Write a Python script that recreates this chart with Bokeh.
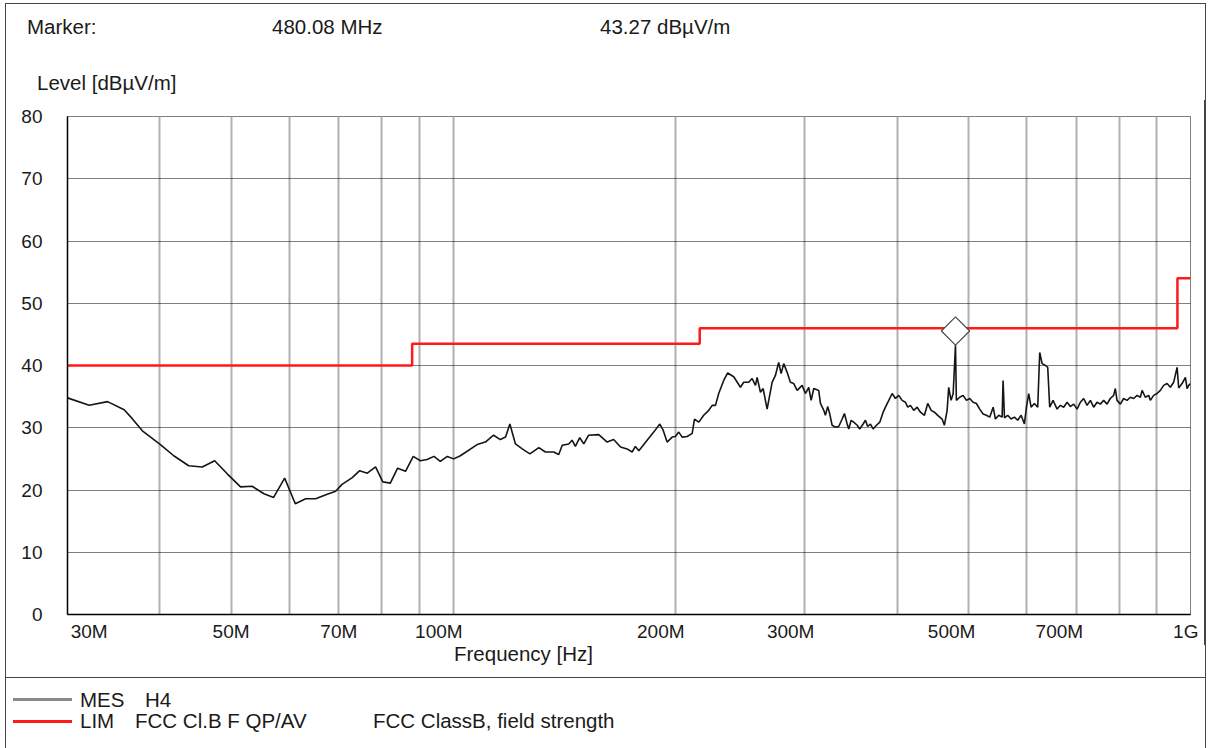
import numpy as np
from bokeh.plotting import figure
from bokeh.models import Range1d, FixedTicker, Div
from bokeh.layouts import column
from bokeh.embed import file_html
from bokeh.resources import INLINE

# ---------------- data ----------------
mes_freq_mhz = [
    30.0, 32.1, 34.0, 35.8, 36.7, 37.9, 40.1, 41.8, 43.8, 45.7, 47.5, 49.4, 51.5, 53.4, 55.4, 57.1,
    59.1, 61.1, 63.1, 65.1, 67.5, 69.3, 70.7, 73.0, 74.7, 76.5, 78.5, 80.3, 82.2, 84.1, 86.2, 88.3,
    90.3, 92.2, 94.2, 96.1, 98.2, 100.2, 102.3, 107.8, 110.6, 113.5, 115.9, 117.8, 119.4, 121.5,
    124.1, 127.1, 130.7, 133.4, 136.9, 139.1, 140.6, 143.5, 145.0, 146.5, 148.5, 150.4, 152.7,
    157.6, 161.8, 165.1, 168.7, 172.2, 174.9, 176.7, 178.6, 180.5, 183.3, 187.1, 190.7, 192.7,
    195.1, 198.2, 200.2, 202.3, 204.5, 207.7, 211.0, 212.5, 215.4, 218.7, 222.2, 224.6, 226.9,
    229.2, 232.8, 235.7, 240.2, 245.3, 247.8, 251.7, 254.4, 257.1, 258.4, 261.1, 263.3, 266.6,
    270.8, 273.6, 276.4, 278.5, 280.8, 283.8, 286.7, 289.7, 292.8, 297.4, 300.5, 303.6, 305.9,
    308.4, 313.2,
    314.9, 318.2, 319.8, 322.1, 324.2, 326.6, 330.0, 333.4, 337.0, 339.4,
    342.3, 344.0, 346.6, 349.4, 353.2, 356.0, 359.8, 362.4, 365.0, 368.1,
    371.2, 375.1, 379.0, 383.0, 385.8, 389.8, 393.9, 398.0, 402.1, 406.4,
    410.6, 413.6, 417.1, 421.4, 425.9, 430.3, 435.7, 440.2, 445.0, 449.5,
    454.2, 460.4, 463.7, 467.7, 470.0, 473.5, 476.6, 480.08, 481.4, 486.4,
    491.7, 496.7, 501.9, 507.2, 512.5, 517.8, 523.3, 528.7, 534.2, 540.0,
    543.8, 549.5, 555.3, 557.0, 559.4, 565.1, 571.1, 577.0, 583.0, 589.3,
    595.3, 599.1, 603.4, 607.9, 614.2, 620.6, 624.5, 629.2, 635.7, 640.3,
    644.3, 651.1,
    659.3, 666.1, 673.0, 680.2, 687.2, 694.3, 701.8, 709.0, 716.4, 724.0, 731.5, 739.1, 746.9,
    754.6, 762.5, 770.6, 778.4, 786.6, 790.8, 795.0, 803.3, 811.6, 820.2, 828.7, 837.3, 846.4,
    855.1, 859.7, 868.5, 877.5, 882.2, 891.3, 900.8, 910.2, 919.6, 929.4, 939.1, 948.8, 959.0,
    963.8, 974.1, 984.2, 989.4, 994.4, 1000.0,
]
mes_level = [
    34.8, 33.6, 34.2, 32.9, 31.5, 29.5, 27.3, 25.5, 23.9, 23.7, 24.7, 22.6, 20.5, 20.6, 19.4, 18.8,
    21.9, 17.8, 18.6, 18.6, 19.3, 19.8, 20.9, 22.0, 23.1, 22.7, 23.7, 21.3, 21.1, 23.5, 23.0, 25.4,
    24.7, 24.9, 25.4, 24.6, 25.4, 25.0, 25.5, 27.3, 27.7, 28.8, 28.1, 28.5, 30.6, 27.4,
    26.6, 25.8, 26.8, 26.1, 26.1, 25.7, 27.2, 27.4, 28.0, 27.0, 28.4, 27.4, 28.8,
    28.9, 27.7, 28.1, 26.9, 26.6, 26.1, 27.0, 26.3, 27.0, 28.0, 29.3, 30.6, 29.6,
    27.7, 28.5, 28.6, 29.3, 28.5, 28.6, 29.1, 31.4, 30.9, 32.0, 32.8, 33.6, 33.6,
    35.5, 37.6, 38.8, 38.2, 36.5, 37.3, 37.3, 37.9, 36.8, 38.1, 35.7, 36.3, 33.0,
    37.3, 38.4, 40.5, 38.7, 40.3, 38.9, 37.3, 37.1, 36.0, 36.8, 35.5, 36.5, 34.4,
    36.3, 36.0,
    33.9, 32.8, 32.0, 33.4, 32.2, 30.4, 30.1, 30.2, 31.4, 32.3,
    30.6, 29.8, 31.2, 30.9, 30.4, 29.8, 30.6, 31.2, 30.2, 30.6,
    29.8, 30.4, 30.9, 32.5, 33.3, 34.4, 35.5, 34.7, 35.2, 34.4,
    34.1, 33.3, 33.6, 32.8, 33.3, 32.5, 32.0, 33.9, 32.8, 32.5,
    32.0, 31.4, 30.4, 32.8, 36.5, 34.4, 35.5, 43.27, 34.4, 34.9,
    35.2, 34.4, 34.7, 34.1, 33.9, 33.0, 32.2, 32.0, 31.7, 33.3,
    31.4, 32.0, 31.7, 37.6, 31.6, 32.0, 31.4, 31.7, 31.2, 32.0,
    30.6, 33.3, 35.5, 33.3, 33.9, 33.3, 42.1, 40.3, 40.0, 39.7,
    33.3, 34.4,
    33.0, 33.6, 33.3, 34.1, 33.4, 33.8, 33.0, 34.1, 34.7, 33.6, 34.4, 33.3, 34.1,
    33.8, 34.4, 33.8, 34.7, 35.2, 36.3, 34.4, 33.8, 34.7, 34.4, 34.9, 34.7, 35.2,
    34.9, 36.0, 34.9, 35.2, 34.4, 35.2, 35.5, 36.0, 36.8, 37.1, 36.5, 37.3, 39.7,
    36.4, 37.1, 38.1, 36.3, 36.8, 37.1,
]

lim_freq_mhz = [30, 88, 88, 216, 216, 960, 960, 1000]
lim_level = [40, 40, 43.5, 43.5, 46, 46, 54, 54]

marker_freq_mhz = 480.08
marker_level = 43.27

y_ticks = [0, 10, 20, 30, 40, 50, 60, 70, 80]
x_tick_mhz = [30, 50, 70, 100, 200, 300, 500, 700, 1000]
x_tick_labels = ["30M", "50M", "70M", "100M", "200M", "300M", "500M", "700M", "1G"]
x_grid_mhz = [40, 50, 60, 70, 80, 90, 100, 200, 300, 400, 500, 600, 700, 800, 900]

mes_legend = ("MES", "H4")
lim_legend = ("LIM", "FCC Cl.B F QP/AV", "FCC ClassB, field strength")

# ---------------- styling / layout ----------------
W = 1208
HEAD_H, FIG_H, FOOT_H = 100, 545, 103
ML, MT, MR, MB = 67, 16, 18, 31
FONT = "Liberation Sans"
TXT = "#1a1a1a"
BORDER = "#454545"

# non-collapsing spaces that nudge tick labels the way the original print places them
EM, EN, NB = "\u2003", "\u2002", "\u00a0"
label_pad = {30: (EM + EM + NB, ""), 100: ("", EM + EN), 200: ("", EM + EN), 300: ("", EM + EN),
             500: ("", EM + EN + NB), 700: ("", EM + EN + NB), 1000: ("", EN)}

p = figure(width=W, height=FIG_H, x_axis_type="log",
           x_range=Range1d(30e6, 1000e6), y_range=Range1d(0, 80),
           output_backend="svg", toolbar_location=None, title=None,
           min_border_left=ML, min_border_top=MT, min_border_right=MR, min_border_bottom=MB)
p.background_fill_color = "white"
p.border_fill_alpha = 0
p.outline_line_color = "black"
p.outline_line_dash = "1 1"
p.outline_line_width = 1
p.styles = {"background": (
    f"linear-gradient(to right, transparent 5px, {BORDER} 5px, {BORDER} 6.5px, transparent 6.5px, "
    f"transparent 1204.5px, {BORDER} 1204.5px, {BORDER} 1206px, transparent 1206px)")}

# grids
p.ygrid.ticker = FixedTicker(ticks=y_ticks)
p.ygrid.grid_line_color = "black"
p.ygrid.grid_line_dash = "1 1"
p.ygrid.grid_line_width = 1
p.xgrid.ticker = FixedTicker(ticks=[f * 1e6 for f in x_grid_mhz])
p.xgrid.grid_line_color = "#b0b0b0"
p.xgrid.grid_line_width = 2

# axes
p.xaxis.ticker = FixedTicker(ticks=[f * 1e6 for f in x_tick_mhz], minor_ticks=[])
overrides = {}
for f, lab in zip(x_tick_mhz, x_tick_labels):
    pre, post = label_pad.get(f, ("", ""))
    overrides[int(f * 1e6)] = pre + lab + post
p.xaxis.major_label_overrides = overrides
p.yaxis.ticker = FixedTicker(ticks=y_ticks, minor_ticks=[])
for ax in (p.xaxis[0], p.yaxis[0]):
    ax.axis_line_color = "black"
    ax.axis_line_width = 1.5
    ax.major_tick_line_color = None
    ax.minor_tick_line_color = None
    ax.major_tick_out = 0
    ax.major_tick_in = 0
    ax.minor_tick_out = 0
    ax.minor_tick_in = 0
    ax.major_label_text_font = FONT
    ax.major_label_text_font_size = "19px"
    ax.major_label_text_color = TXT
p.xaxis.major_label_standoff = 6
p.yaxis.major_label_standoff = 25

# series
xs_lim = [f * 1e6 for f in lim_freq_mhz]
xs_mes = [f * 1e6 for f in mes_freq_mhz]
p.line(xs_lim, lim_level, line_color="#ff1a1a", line_width=2.5)
p.line(xs_mes, mes_level, line_color="#151515", line_width=1.6)

# marker diamond sitting on the peak
frame_h = FIG_H - MT - MB
px_per_db = frame_h / 80.0
diamond_size = 20
half_diag = diamond_size * np.sqrt(2) / 2
p.scatter([marker_freq_mhz * 1e6], [marker_level + half_diag / px_per_db], marker="square",
          angle=np.pi / 4, size=diamond_size, fill_color="white", line_color="#4a4a4a", line_width=1.2)


# ---------------- header / footer (HTML text) ----------------
def span(text, left, baseline):
    top = baseline - 17
    return (f'<span style="position:absolute;left:{left}px;top:{top}px;line-height:20px;'
            f'white-space:nowrap;">{text}</span>')


base_css = f"position:relative;width:{W}px;font-family:'{FONT}';font-size:20.5px;color:{TXT};"

head_html = (
    f'<div style="{base_css}height:{HEAD_H}px;">'
    f'<div style="position:absolute;left:5px;top:3px;width:1201px;height:{HEAD_H - 3}px;box-sizing:border-box;'
    f'border-left:1.5px solid {BORDER};border-top:1.5px solid {BORDER};border-right:1.5px solid {BORDER};"></div>'
    + span("Marker:", 27, 34)
    + span(f"{marker_freq_mhz:.2f} MHz", 272, 34)
    + span(f"{marker_level:.2f} dBµV/m", 600, 34)
    + span("Level [dBµV/m]", 37, 90)
    + '</div>'
)

foot_html = (
    f'<div style="{base_css}height:{FOOT_H}px;">'
    f'<div style="position:absolute;left:5px;top:0px;width:1201px;height:{FOOT_H}px;box-sizing:border-box;'
    f'border-left:1.5px solid {BORDER};border-right:1.5px solid {BORDER};"></div>'
    f'<div style="position:absolute;left:5px;top:32px;width:1201px;height:0px;border-top:1.5px solid {BORDER};"></div>'
    + span("Frequency [Hz]", 454, 16)
    + '<div style="position:absolute;left:13px;top:53px;width:59px;height:2.5px;background:#8a8a8a;"></div>'
    + span(mes_legend[0], 80, 62)
    + span(mes_legend[1], 145, 62)
    + '<div style="position:absolute;left:13px;top:75px;width:59px;height:2.5px;background:#ff1a1a;"></div>'
    + span(lim_legend[0], 80, 83)
    + span(lim_legend[1], 135, 83)
    + span(lim_legend[2], 373, 83)
    + '</div>'
)

head = Div(text=head_html, width=W, height=HEAD_H, margin=0)
foot = Div(text=foot_html, width=W, height=FOOT_H, margin=0)

layout = column(head, p, foot, spacing=0)

open("out.html", "w").write(file_html(layout, INLINE))
